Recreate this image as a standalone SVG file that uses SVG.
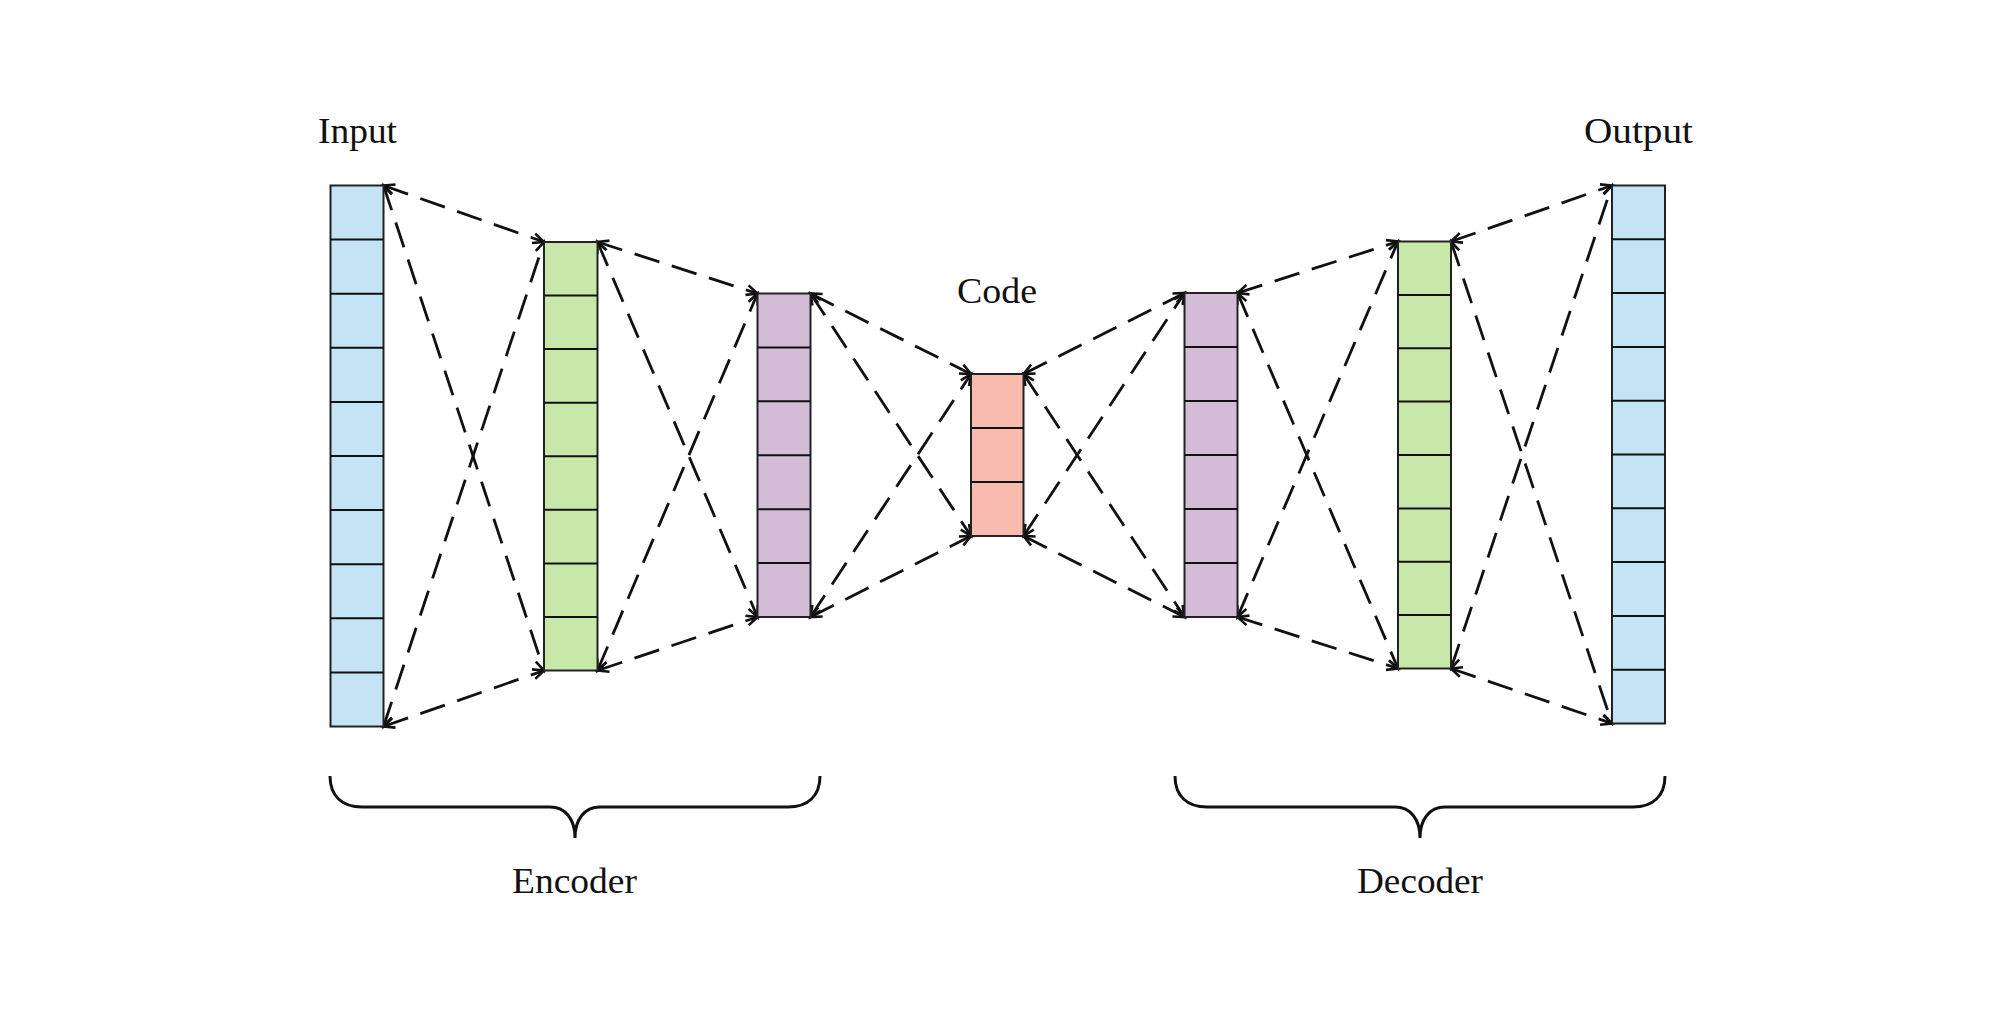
<svg xmlns="http://www.w3.org/2000/svg" width="2013" height="1021" viewBox="0 0 2013 1021">
<defs>
<style>
.lbl{font-family:"Liberation Serif","Times New Roman",serif;font-size:36px;fill:#111}
.col rect{stroke:#222;stroke-width:2}
.col line{stroke:#111;stroke-width:2}
.blue rect{fill:#c4e4f6}
.green rect{fill:#c8e8aa}
.purple rect{fill:#d2bcd6}
.salmon rect{fill:#fabbaf}
.edge{stroke:#111;stroke-width:2.8;stroke-dasharray:26 13;fill:none;marker-start:url(#ah);marker-end:url(#ah)}
.brace{stroke:#111;stroke-width:3;fill:none}
</style>
<marker id="ah" markerUnits="userSpaceOnUse" viewBox="-14 -8 16 16" refX="0" refY="0" markerWidth="16" markerHeight="16" orient="auto-start-reverse" overflow="visible">
<path d="M -11,-5 L 0,0 L -11,5" fill="none" stroke="#111" stroke-width="2.6"/>
</marker>
</defs>
<rect width="2013" height="1021" fill="#fff"/>

<g id="connectors">
<line class="edge" x1="383.5" y1="185.5" x2="544" y2="242"/>
<line class="edge" x1="383.5" y1="185.5" x2="544" y2="670.5"/>
<line class="edge" x1="383.5" y1="726.5" x2="544" y2="242"/>
<line class="edge" x1="383.5" y1="726.5" x2="544" y2="670.5"/>
<line class="edge" x1="597.5" y1="242" x2="757.5" y2="293.5"/>
<line class="edge" x1="597.5" y1="242" x2="757.5" y2="617"/>
<line class="edge" x1="597.5" y1="670.5" x2="757.5" y2="293.5"/>
<line class="edge" x1="597.5" y1="670.5" x2="757.5" y2="617"/>
<line class="edge" x1="810.5" y1="293.5" x2="971" y2="374"/>
<line class="edge" x1="810.5" y1="293.5" x2="971" y2="536"/>
<line class="edge" x1="810.5" y1="617" x2="971" y2="374"/>
<line class="edge" x1="810.5" y1="617" x2="971" y2="536"/>
<line class="edge" x1="1023.5" y1="374" x2="1184.5" y2="293"/>
<line class="edge" x1="1023.5" y1="374" x2="1184.5" y2="617"/>
<line class="edge" x1="1023.5" y1="536" x2="1184.5" y2="293"/>
<line class="edge" x1="1023.5" y1="536" x2="1184.5" y2="617"/>
<line class="edge" x1="1237.5" y1="293" x2="1398" y2="241.5"/>
<line class="edge" x1="1237.5" y1="293" x2="1398" y2="668.5"/>
<line class="edge" x1="1237.5" y1="617" x2="1398" y2="241.5"/>
<line class="edge" x1="1237.5" y1="617" x2="1398" y2="668.5"/>
<line class="edge" x1="1451" y1="241.5" x2="1612" y2="185.5"/>
<line class="edge" x1="1451" y1="241.5" x2="1612" y2="723.5"/>
<line class="edge" x1="1451" y1="668.5" x2="1612" y2="185.5"/>
<line class="edge" x1="1451" y1="668.5" x2="1612" y2="723.5"/>
</g>

<g id="input-layer" class="col blue">
<rect x="330.5" y="185.5" width="53" height="541"/>
<line x1="330.5" x2="383.5" y1="239.6" y2="239.6"/>
<line x1="330.5" x2="383.5" y1="293.7" y2="293.7"/>
<line x1="330.5" x2="383.5" y1="347.8" y2="347.8"/>
<line x1="330.5" x2="383.5" y1="401.9" y2="401.9"/>
<line x1="330.5" x2="383.5" y1="456" y2="456"/>
<line x1="330.5" x2="383.5" y1="510.1" y2="510.1"/>
<line x1="330.5" x2="383.5" y1="564.2" y2="564.2"/>
<line x1="330.5" x2="383.5" y1="618.3" y2="618.3"/>
<line x1="330.5" x2="383.5" y1="672.4" y2="672.4"/>
</g>

<g id="encoder-hidden-1" class="col green">
<rect x="544" y="242" width="53.5" height="428.5"/>
<line x1="544" x2="597.5" y1="295.6" y2="295.6"/>
<line x1="544" x2="597.5" y1="349.1" y2="349.1"/>
<line x1="544" x2="597.5" y1="402.7" y2="402.7"/>
<line x1="544" x2="597.5" y1="456.3" y2="456.3"/>
<line x1="544" x2="597.5" y1="509.8" y2="509.8"/>
<line x1="544" x2="597.5" y1="563.4" y2="563.4"/>
<line x1="544" x2="597.5" y1="616.9" y2="616.9"/>
</g>

<g id="encoder-hidden-2" class="col purple">
<rect x="757.5" y="293.5" width="53" height="323.5"/>
<line x1="757.5" x2="810.5" y1="347.4" y2="347.4"/>
<line x1="757.5" x2="810.5" y1="401.3" y2="401.3"/>
<line x1="757.5" x2="810.5" y1="455.3" y2="455.3"/>
<line x1="757.5" x2="810.5" y1="509.2" y2="509.2"/>
<line x1="757.5" x2="810.5" y1="563.1" y2="563.1"/>
</g>

<g id="code-layer" class="col salmon">
<rect x="971" y="374" width="52.5" height="162"/>
<line x1="971" x2="1023.5" y1="428" y2="428"/>
<line x1="971" x2="1023.5" y1="482" y2="482"/>
</g>

<g id="decoder-hidden-1" class="col purple">
<rect x="1184.5" y="293" width="53" height="324"/>
<line x1="1184.5" x2="1237.5" y1="347" y2="347"/>
<line x1="1184.5" x2="1237.5" y1="401" y2="401"/>
<line x1="1184.5" x2="1237.5" y1="455" y2="455"/>
<line x1="1184.5" x2="1237.5" y1="509" y2="509"/>
<line x1="1184.5" x2="1237.5" y1="563" y2="563"/>
</g>

<g id="decoder-hidden-2" class="col green">
<rect x="1398" y="241.5" width="53" height="427"/>
<line x1="1398" x2="1451" y1="294.9" y2="294.9"/>
<line x1="1398" x2="1451" y1="348.3" y2="348.3"/>
<line x1="1398" x2="1451" y1="401.6" y2="401.6"/>
<line x1="1398" x2="1451" y1="455" y2="455"/>
<line x1="1398" x2="1451" y1="508.4" y2="508.4"/>
<line x1="1398" x2="1451" y1="561.8" y2="561.8"/>
<line x1="1398" x2="1451" y1="615.1" y2="615.1"/>
</g>

<g id="output-layer" class="col blue">
<rect x="1612" y="185.5" width="53" height="538"/>
<line x1="1612" x2="1665" y1="239.3" y2="239.3"/>
<line x1="1612" x2="1665" y1="293.1" y2="293.1"/>
<line x1="1612" x2="1665" y1="346.9" y2="346.9"/>
<line x1="1612" x2="1665" y1="400.7" y2="400.7"/>
<line x1="1612" x2="1665" y1="454.5" y2="454.5"/>
<line x1="1612" x2="1665" y1="508.3" y2="508.3"/>
<line x1="1612" x2="1665" y1="562.1" y2="562.1"/>
<line x1="1612" x2="1665" y1="615.9" y2="615.9"/>
<line x1="1612" x2="1665" y1="669.7" y2="669.7"/>
</g>

<g id="labels">
<text class="lbl" x="318" y="143" textLength="79" lengthAdjust="spacingAndGlyphs">Input</text>
<text class="lbl" x="1584" y="143" textLength="109" lengthAdjust="spacingAndGlyphs">Output</text>
<text class="lbl" x="957" y="303" textLength="80" lengthAdjust="spacingAndGlyphs">Code</text>
</g>

<g id="encoder-brace">
<path class="brace" d="M 330,776 C 330,796 342,807 362,807 L 550,807 C 566,807 575,820 575,838 C 575,820 584,807 600,807 L 788,807 C 808,807 820,796 820,776"/>
<text class="lbl" x="512" y="893" textLength="125" lengthAdjust="spacingAndGlyphs">Encoder</text>
</g>

<g id="decoder-brace">
<path class="brace" d="M 1175,776 C 1175,796 1187,807 1207,807 L 1395,807 C 1411,807 1420,820 1420,838 C 1420,820 1429,807 1445,807 L 1633,807 C 1653,807 1665,796 1665,776"/>
<text class="lbl" x="1357" y="893" textLength="126" lengthAdjust="spacingAndGlyphs">Decoder</text>
</g>
</svg>
